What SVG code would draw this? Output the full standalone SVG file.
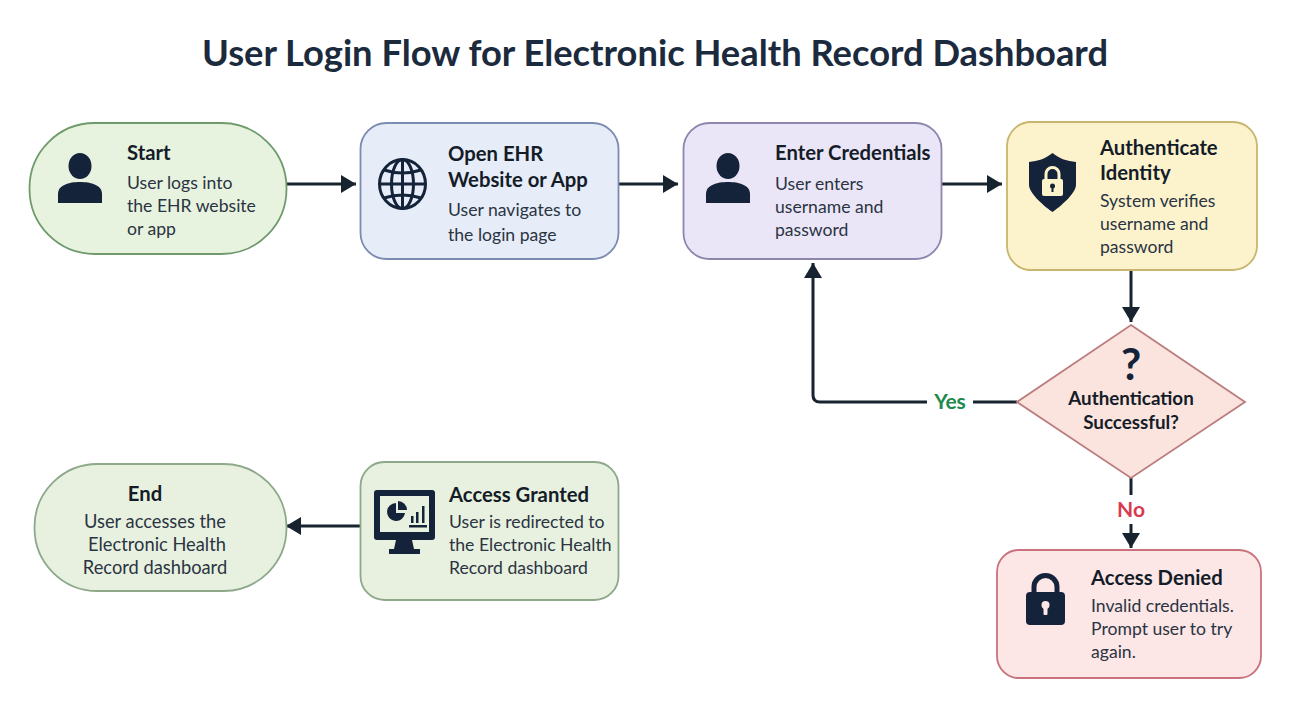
<svg xmlns="http://www.w3.org/2000/svg" width="1300" height="728" viewBox="0 0 1300 728">
<style>
text{font-family:Lato,"Liberation Sans",sans-serif;fill:#1a2433}
.title{font-size:36.300px;font-weight:700;fill:#1b2a3d}
.h{font-size:20.300px;font-weight:700;fill:#141c28}
.b{font-size:17.600px;font-weight:400;fill:#2a3442}
.c{text-anchor:middle}
.ic{fill:#14233a}
.line{fill:none;stroke:#17242f;stroke-width:3}
.node{stroke-width:1.8}
</style>
<defs>
<marker id="ah" markerUnits="userSpaceOnUse" markerWidth="16" markerHeight="18" refX="15" refY="9" orient="auto"><path d="M0 0L15 9L0 18Z" fill="#17242f"/></marker>
<g id="person"><ellipse cx="0" cy="-13" rx="11.500" ry="13" class="ic"/><path class="ic" d="M-22 24V15C-22 6-11 3 0 3S22 6 22 15V24Z"/></g>
</defs>
<rect width="1300" height="728" fill="#fff"/>
<text class="title c" x="655" y="66">User Login Flow for Electronic Health Record Dashboard</text>
<g id="connectors">
<path class="line" d="M286 184H356" marker-end="url(#ah)"/>
<path class="line" d="M618 184H678" marker-end="url(#ah)"/>
<path class="line" d="M941 184H1002" marker-end="url(#ah)"/>
<path class="line" d="M1131 271V322" marker-end="url(#ah)"/>
<path class="line" d="M927 402H820Q813 402 813 395V263" marker-end="url(#ah)"/>
<path class="line" d="M1017 402H973"/>
<path class="line" d="M1131 478V495"/>
<path class="line" d="M1131 524V548" marker-end="url(#ah)"/>
<path class="line" d="M360 526H286" marker-end="url(#ah)"/>
<text x="950" y="409" class="c" style="font-size:21px;font-weight:700;fill:#1f8a4c">Yes</text>
<text x="1131" y="517" class="c" style="font-size:21px;font-weight:700;fill:#d93a50">No</text>
</g>
<g id="start">
<rect class="node" x="29.500" y="123" width="257" height="131" rx="65" fill="#e8f3df" stroke="#6f9a6c"/>
<use href="#person" x="80" y="179"/>
<text class="h" x="127" y="160">Start</text>
<text class="b" x="127" y="189">User logs into</text>
<text class="b" x="127" y="212">the EHR website</text>
<text class="b" x="127" y="235">or app</text>
</g>
<g id="open">
<rect class="node" x="360.500" y="123" width="258" height="136" rx="26" fill="#e6ecf8" stroke="#7c8bb0"/>
<g fill="none" stroke="#14233a" stroke-width="3">
<ellipse cx="402.500" cy="184" rx="23" ry="24.500"/>
<ellipse cx="402.500" cy="184" rx="11" ry="24.500"/>
<path d="M402.500 160V208M380 184H425M384 170Q402.500 176 421 170M384 198Q402.500 192 421 198"/>
</g>
<text class="h" x="448" y="161">Open EHR</text>
<text class="h" x="448" y="187">Website or App</text>
<text class="b" x="448" y="216">User navigates to</text>
<text class="b" x="448" y="241">the login page</text>
</g>
<g id="enter">
<rect class="node" x="683.500" y="123" width="258" height="136" rx="26" fill="#ebe6f7" stroke="#8d86ad"/>
<use href="#person" x="728" y="179"/>
<text class="h" x="775" y="160">Enter Credentials</text>
<text class="b" x="775" y="190">User enters</text>
<text class="b" x="775" y="213">username and</text>
<text class="b" x="775" y="236">password</text>
</g>
<g id="authenticate">
<rect class="node" x="1007" y="122" width="250" height="148" rx="24" fill="#fcf3cd" stroke="#c9b56d"/>
<path class="ic" d="M1052.500 153C1045 159 1038 161 1029 162V185C1029 192 1041 204 1052.500 212C1064 204 1076 192 1076 185V162C1067 161 1060 159 1052.500 153Z"/>
<path d="M1046 180V174A6.500 6.500 0 0 1 1059 174V180" fill="none" stroke="#fdf3cb" stroke-width="3"/>
<rect x="1042" y="179" width="21" height="17" rx="2" fill="#fdf3cb"/>
<circle cx="1052.500" cy="186" r="2.500" class="ic"/><rect x="1051.500" y="186" width="2" height="6" class="ic"/>
<text class="h" x="1100" y="155">Authenticate</text>
<text class="h" x="1100" y="180">Identity</text>
<text class="b" x="1100" y="207">System verifies</text>
<text class="b" x="1100" y="230">username and</text>
<text class="b" x="1100" y="253">password</text>
</g>
<g id="decision">
<path class="node" d="M1131 325L1245 402L1131 478L1017 402Z" fill="#fbe3de" stroke="#bb7d7d"/>
<text x="1131" y="380" class="c" style="font-size:44px;font-weight:700;fill:#14233a">?</text>
<text class="c" x="1131" y="405" style="font-size:18.800px;font-weight:700;fill:#141c28">Authentication</text>
<text class="c" x="1131" y="429" style="font-size:18.800px;font-weight:700;fill:#141c28">Successful?</text>
</g>
<g id="denied">
<rect class="node" x="997" y="550" width="264" height="128" rx="22" fill="#fce6e6" stroke="#c9717d"/>
<path d="M1034 596V587A11.500 11.500 0 0 1 1057 587V596" fill="none" stroke="#14233a" stroke-width="5"/>
<rect x="1026" y="592" width="39" height="33" rx="4" class="ic"/>
<circle cx="1045.500" cy="605" r="4" fill="#fce6e6"/><rect x="1043.500" y="606" width="4" height="9" rx="1" fill="#fce6e6"/>
<text class="h" x="1091" y="585">Access Denied</text>
<text class="b" x="1091" y="612">Invalid credentials.</text>
<text class="b" x="1091" y="635">Prompt user to try</text>
<text class="b" x="1091" y="658">again.</text>
</g>
<g id="granted">
<rect class="node" x="360.500" y="462" width="258" height="138" rx="24" fill="#e8f1df" stroke="#8ea88a"/>
<rect x="374" y="490" width="61" height="50" rx="3" class="ic"/>
<rect x="380" y="496" width="49" height="36" fill="#e8f1df"/>
<path class="ic" d="M396 503A9 9 0 1 0 405 513H396Z"/>
<path class="ic" d="M398 501A9 9 0 0 1 407 510H398Z"/>
<path class="ic" d="M396 540H412L414 549H420V554H389V549H394Z"/>
<rect x="411" y="516" width="2.500" height="7" class="ic"/><rect x="416" y="512" width="2.500" height="11" class="ic"/><rect x="422" y="506" width="2.500" height="17" class="ic"/><rect x="409" y="525" width="18" height="2.500" class="ic"/>
<text class="h" x="449" y="502">Access Granted</text>
<text class="b" x="449" y="528">User is redirected to</text>
<text class="b" x="449" y="551">the Electronic Health</text>
<text class="b" x="449" y="574">Record dashboard</text>
</g>
<g id="end">
<rect class="node" x="34.500" y="464" width="252" height="127" rx="63" fill="#e8f1df" stroke="#8ea88a"/>
<text class="h c" x="145" y="501">End</text>
<text class="b c" style="font-size:18.300px" x="155" y="528">User accesses the</text>
<text class="b c" style="font-size:18.300px" x="157" y="551">Electronic Health</text>
<text class="b c" style="font-size:18.300px" x="155" y="574">Record dashboard</text>
</g>
</svg>
